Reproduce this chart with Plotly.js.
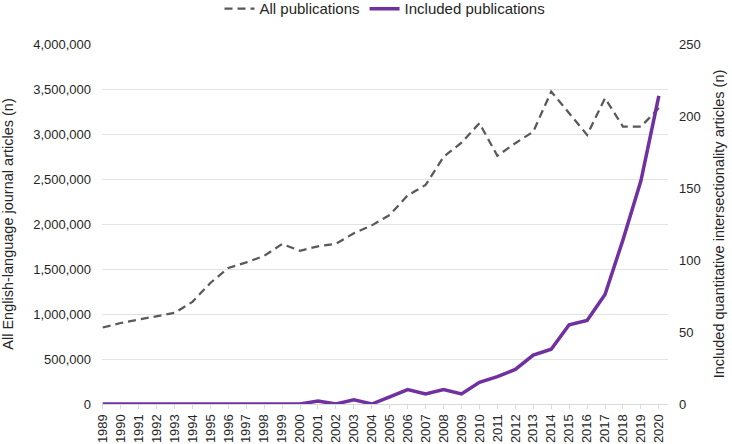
<!DOCTYPE html>
<html>
<head>
<meta charset="utf-8">
<script src="https://cdn.plot.ly/plotly-3.0.1.min.js"></script>
<style>html,body{margin:0;padding:0;background:#fff;}#chart{width:732px;height:444px;}</style>
</head>
<body>
<div id="chart"></div>
<script>
const years = [1989,1990,1991,1992,1993,1994,1995,1996,1997,1998,1999,2000,2001,2002,2003,2004,2005,2006,2007,2008,2009,2010,2011,2012,2013,2014,2015,2016,2017,2018,2019,2020];
const allPublications = [850000,900000,938000,973000,1012000,1135000,1345000,1512000,1573000,1646000,1778000,1703000,1752000,1780000,1898000,1985000,2100000,2318000,2434000,2745000,2904000,3120000,2757000,2898000,3026000,3472000,3231000,2990000,3397000,3082000,3082000,3288000];
const includedPublications = [0,0,0,0,0,0,0,0,0,0,0,0,2,0,3,0,5,10,7,10,7,15,19,24,34,38,55,58,76,114,155,214];
const leftTitle = "All English-language journal articles (n)";
const rightTitle = "Included quantitative intersectionality articles (n)";

const font = {family: "Liberation Sans, Arial, sans-serif", color: "#262626"};

const traces = [
  {x: years, y: allPublications, name: "All publications", type: "scatter", mode: "lines",
   line: {color: "#595959", width: 2.25, dash: "8px,5px"}, yaxis: "y"},
  {x: years, y: includedPublications, name: "Included publications", type: "scatter", mode: "lines",
   line: {color: "#7030A0", width: 3.5}, yaxis: "y2"}
];

const layout = {
  width: 732, height: 444,
  margin: {l: 102, r: 64, t: 44, b: 40},
  paper_bgcolor: "#ffffff", plot_bgcolor: "#ffffff",
  font: Object.assign({size: 13}, font),
  showlegend: true,
  legend: {orientation: "h", x: 0.5, xanchor: "center", y: 0.98, yanchor: "middle", yref: "container",
           font: Object.assign({size: 15}, font), itemwidth: 30, tracegroupgap: 0},
  xaxis: {type: "linear", range: [1988.96, 2020.51], tickmode: "linear", tick0: 1989, dtick: 1,
          tickangle: -90, showgrid: false, zeroline: false, showline: true, linecolor: "#d9d9d9",
          ticks: "outside", ticklen: 4, tickcolor: "#d9d9d9", tickfont: Object.assign({size: 13}, font)},
  yaxis: {range: [0, 4000000], tickmode: "linear", tick0: 0, dtick: 500000, tickformat: ",d",
          showgrid: true, gridcolor: "#e3e3e3", gridwidth: 1, zeroline: false, showline: false,
          ticklabelstandoff: 10, tickfont: Object.assign({size: 13}, font),
          title: {text: leftTitle, font: Object.assign({size: 14.5}, font), standoff: 18}},
  yaxis2: {range: [0, 250], tickmode: "linear", tick0: 0, dtick: 50, overlaying: "y", side: "right",
           showgrid: false, zeroline: false, showline: false, ticklabelstandoff: 10,
           tickfont: Object.assign({size: 13}, font),
           title: {text: rightTitle, font: Object.assign({size: 14.5}, font), standoff: 14}}
};

Plotly.newPlot("chart", traces, layout, {staticPlot: true, displayModeBar: false});
</script>
</body>
</html>
